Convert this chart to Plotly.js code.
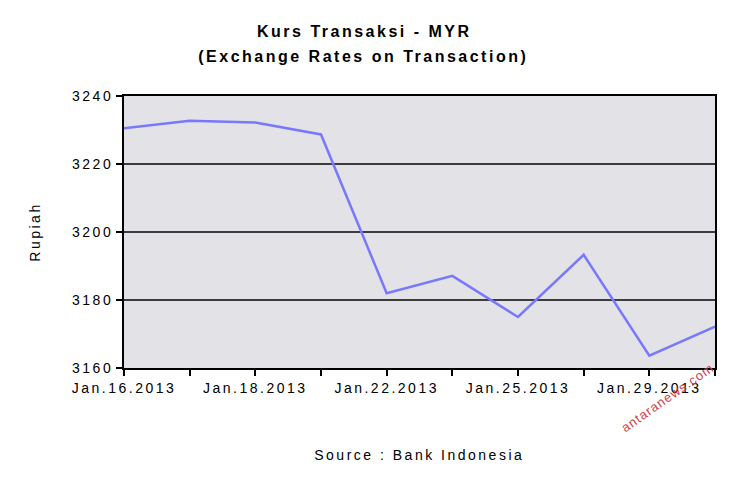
<!DOCTYPE html>
<html>
<head>
<meta charset="utf-8">
<script src="https://cdn.plot.ly/plotly-3.0.1.min.js"></script>
<style>
  html, body { margin: 0; padding: 0; background: #ffffff; }
  #chart { width: 730px; height: 487px; }
  .main-svg text { letter-spacing: 2.5px; }
</style>
</head>
<body>
<div id="chart"></div>
<script>
// Data
const dates = ["Jan.16.2013", "Jan.17.2013", "Jan.18.2013", "Jan.21.2013", "Jan.22.2013",
               "Jan.23.2013", "Jan.25.2013", "Jan.28.2013", "Jan.29.2013", "Jan.30.2013"];
const rates = [3230.5, 3232.7, 3232.2, 3228.7, 3182.0, 3187.1, 3175.0, 3193.3, 3163.6, 3172.2];
const tickLabels = ["Jan.16.2013", "", "Jan.18.2013", "", "Jan.22.2013",
                    "", "Jan.25.2013", "", "Jan.29.2013", ""];
const yTicks = [3160, 3180, 3200, 3220, 3240];

const trace = {
  x: dates,
  y: rates,
  type: 'scatter',
  mode: 'lines',
  line: { color: '#7878ff', width: 2.5 },
  hoverinfo: 'x+y'
};

const font = "Liberation Sans, Arial, sans-serif";

const layout = {
  width: 730,
  height: 487,
  margin: { l: 124, r: 15, t: 96, b: 119 },
  paper_bgcolor: '#ffffff',
  plot_bgcolor: '#e3e2e7',
  showlegend: false,
  font: { family: font, size: 14, color: '#000000' },
  title: {
    text: '<b>Kurs Transaksi - MYR</b>',
    font: { family: font, size: 16, color: '#000000' },
    xref: 'container', x: 0.499, xanchor: 'center',
    yref: 'container', y: 1 - 31 / 487, yanchor: 'middle'
  },
  xaxis: {
    type: 'category',
    range: [0, dates.length - 1],
    tickmode: 'array',
    tickvals: dates,
    ticktext: tickLabels,
    ticks: 'outside',
    ticklen: 6,
    tickwidth: 2,
    tickcolor: '#000000',
    showline: true,
    linecolor: '#000000',
    linewidth: 2,
    mirror: true,
    showgrid: false,
    zeroline: false,
    tickfont: { family: font, size: 14, color: '#000000' },
    automargin: false
  },
  yaxis: {
    range: [3160, 3240],
    tickmode: 'array',
    tickvals: yTicks,
    ticks: 'outside',
    ticklen: 6,
    tickwidth: 2,
    tickcolor: '#000000',
    showline: true,
    linecolor: '#000000',
    linewidth: 2,
    mirror: true,
    showgrid: true,
    gridcolor: '#3c3c3c',
    gridwidth: 2,
    zeroline: false,
    tickfont: { family: font, size: 14, color: '#000000' },
    title: { text: 'Rupiah', font: { family: font, size: 14, color: '#000000' }, standoff: 38 },
    automargin: false
  },
  annotations: [
    {
      text: '<b>(Exchange Rates on Transaction)</b>',
      xref: 'paper', yref: 'paper',
      x: (363 - 124) / 591, y: 1 + (96 - 56) / 272,
      xanchor: 'center', yanchor: 'middle',
      showarrow: false,
      font: { family: font, size: 16, color: '#000000' }
    },
    {
      text: 'Source : Bank Indonesia',
      xref: 'paper', yref: 'paper',
      x: 0.5, y: -0.32,
      xanchor: 'center', yanchor: 'middle',
      showarrow: false,
      font: { family: font, size: 14, color: '#000000' }
    },
    {
      text: 'antaranews.com',
      xref: 'paper', yref: 'paper',
      x: 0.92, y: -0.11,
      xanchor: 'center', yanchor: 'middle',
      textangle: -35,
      showarrow: false,
      font: { family: font, size: 13, color: '#d04050' }
    }
  ]
};

Plotly.newPlot('chart', [trace], layout, { displayModeBar: false, staticPlot: true }).then(function () {
  const anns = document.querySelectorAll('.annotation-text');
  if (anns[2]) anns[2].style.letterSpacing = '1px';
});
</script>
</body>
</html>
